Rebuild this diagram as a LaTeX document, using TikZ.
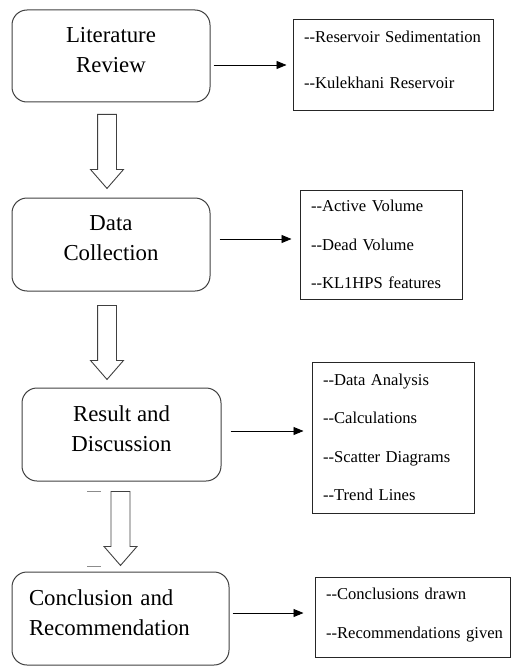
\documentclass[tikz,border=0pt]{standalone}
\usepackage{fontspec}
\setmainfont{Liberation Serif}
\usetikzlibrary{shapes,arrows}
\usetikzlibrary{arrows.meta}
\usetikzlibrary{positioning}
\tikzset{
stage/.style={
  draw=black!75, line width=1pt, rounded corners=15pt,
  align=center, inner sep=0pt, text depth=12pt,
  font=\fontsize{22.8}{30}\selectfont},
note/.style={
  draw=black!85, line width=1pt, align=left,
  inner xsep=11pt, inner ysep=0pt,
  font=\fontsize{16.6}{38.5}\selectfont},
downarrow/.style={
  draw=black!75, line width=0.9pt, single arrow, shape border rotate=270,
  inner sep=9pt, minimum height=74pt, minimum width=32pt,
  single arrow head extend=7pt, single arrow tip angle=82, anchor=tail},
flow/.style={-{Triangle[length=10pt,width=8pt]}, line width=0.9pt}
}

\begin{document}
\begin{tikzpicture}[x=1pt,y=-1pt]
\useasboundingbox (0,0) rectangle (511,666);

% stages
\node[stage, minimum width=198pt, minimum height=92pt] (lit) at (111,56) {Literature\\Review};
\node[stage, minimum width=198pt, minimum height=93pt] (data) at (111,244.5) {Data\\Collection};
\node[stage, minimum width=199pt, minimum height=93pt] (res) at (121.5,434.5) {Result and\\Discussion};
\node[stage, minimum width=217pt, minimum height=93pt, align=left, text width=183pt, text depth=42pt] (concl) at (120.5,618.5) {Conclusion and\\Recommendation};

% notes
\node[note, minimum height=91pt, text width=178pt, text depth=58pt, font=\fontsize{16.6}{46}\selectfont] (litnote) at (393,65.5)
  {-{}-Reservoir Sedimentation\\-{}-Kulekhani Reservoir};
\node[note, minimum height=109pt, text width=140pt] (datanote) at (381,244.5)
  {-{}-Active Volume\\-{}-Dead Volume\\-{}-KL1HPS features};
\node[note, minimum height=151pt, text width=140pt] (resnote) at (393,437.5)
  {-{}-Data Analysis\\-{}-Calculations\\-{}-Scatter Diagrams\\-{}-Trend Lines};
\node[note, minimum height=80pt, text width=173pt, text depth=46pt] (conclnote) at (412.5,617)
  {-{}-Conclusions drawn\\\mbox{-{}-Recommendations given}};

% block arrows
\node[downarrow] (litdown) at (107,114) {};
\node[downarrow] (datadown) at (107,305) {};
\node[downarrow, minimum width=33pt] (resdown) at (120.5,491) {};

% stray marks
\draw[black!45, line width=0.8pt] (87,491) -- (101,491);
\draw[black!45, line width=0.8pt] (87,566) -- (101,566);

% connectors
\draw[flow] ([xshift=3pt,yshift=-9pt]lit.east) -- ([xshift=-6pt,yshift=0.5pt]litnote.west);
\draw[flow] ([xshift=9pt,yshift=5.5pt]data.east) -- ([xshift=-8pt,yshift=5.5pt]datanote.west);
\draw[flow] ([xshift=9pt,yshift=3.5pt]res.east) -- ([xshift=-8pt,yshift=6.5pt]resnote.west);
\draw[flow] ([xshift=3pt,yshift=5.5pt]concl.east) -- ([xshift=-11pt,yshift=4pt]conclnote.west);
\end{tikzpicture}
\end{document}
